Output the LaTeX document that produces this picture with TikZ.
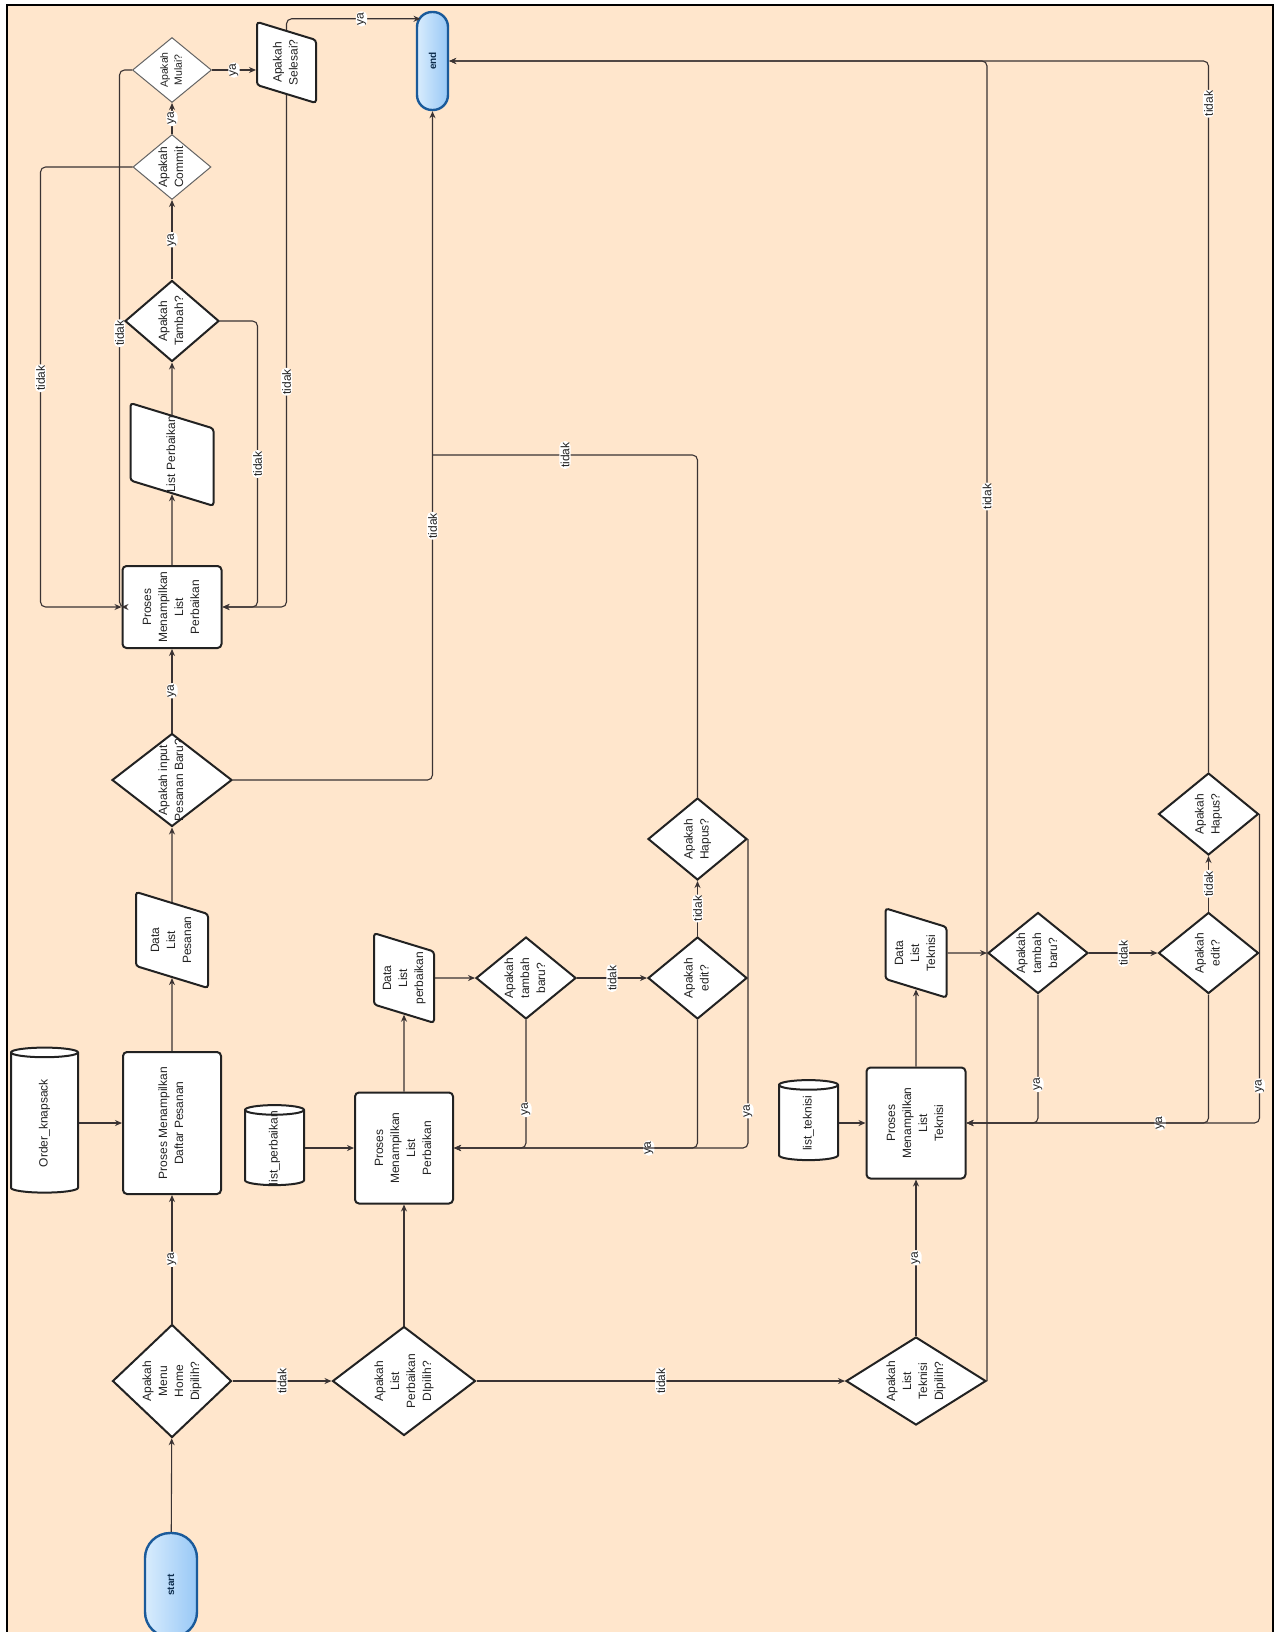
\documentclass[tikz,border=0pt]{standalone}
\usepackage{fontspec}
\setmainfont{Liberation Sans}
\usetikzlibrary{arrows.meta,shapes.geometric,calc}
\definecolor{peach}{HTML}{FFE6CC}
\definecolor{ink}{HTML}{222222}
\definecolor{wire}{HTML}{3A3333}
\definecolor{termln}{HTML}{1A5A9A}
\definecolor{termlo}{HTML}{D8ECFD}
\definecolor{termhi}{HTML}{98C8F6}
\newcommand{\ml}[1]{\makebox[0pt]{\begin{tabular}{@{}c@{}}#1\end{tabular}}}
\tikzset{
  every node/.append style={rotate=90, text=ink, font=\fontsize{12}{16}\selectfont},
  term/.style={rectangle, rounded corners=#1, draw=termln, line width=2.4pt, left color=termlo, right color=termhi, inner sep=0pt, text=termln!50!black, font=\fontsize{10}{12}\selectfont\bfseries},
  proc/.style={rectangle, rounded corners=4pt, draw=ink, line width=2pt, fill=white, inner sep=0pt},
  dec/.style={diamond, draw=ink, line width=2pt, fill=white, inner sep=0pt},
  decthin/.style={diamond, draw=ink!70, line width=1pt, fill=white, inner sep=0pt},
  % io: text width, text height, text depth (the slanted sides grow round that box)
  io/.style n args={3}{trapezium, trapezium left angle=73, trapezium right angle=107, rounded corners=3pt, draw=ink, line width=2pt, fill=white, inner sep=0pt, align=center, text width=#1, text height=#2, text depth=#3},
  store/.style={cylinder, aspect=0.6, draw=ink, line width=2pt, fill=white, inner sep=0pt},
  flow/.style={draw=wire, line width=1.1pt, rounded corners=5pt, -{Stealth[length=7pt,width=6pt]}},
  lbl/.style={fill=white, inner sep=1.2pt, font=\fontsize{12}{14}\selectfont},
}

\begin{document}
\begin{tikzpicture}[x=1pt, y=-1pt]
  \useasboundingbox (0,0) rectangle (1276,1632);
  \fill[white] (0,0) rectangle (1276,1632);
  \fill[peach] (7,5) rectangle (1273,1640);
  \draw[line width=2.5pt] (7,5) rectangle (1273,1640);

  % terminals
  \node[term=25pt, minimum width=104pt, minimum height=52pt] (st) at (171,1585) {start};
  \node[term=15pt, minimum width=98pt, minimum height=31pt] (en) at (432.5,61) {end};

  % menu home branch
  \node[dec, minimum width=113pt, minimum height=119pt] (dhome) at (172,1381) {\ml{Apakah\\Menu\\Home\\Dipilih?}};
  \node[proc, minimum width=142pt, minimum height=98pt] (pdaftar) at (172,1123) {\ml{Proses Menampilkan\\Daftar Pesanan}};
  \node[store, minimum width=67pt, minimum height=145pt] (dborder) at (44.5,1123) {\ml{Order\_knapsack}};
  \node[io={52pt}{39pt}{33pt}] (dpesan) at (172,940) {\ml{Data\\List\\Pesanan}};
  \node[dec, minimum width=93pt, minimum height=120pt] (dinput) at (172,780) {\ml{Apakah input\\Pesanan Baru?}};
  \node[proc, minimum width=82pt, minimum height=99pt] (plist) at (172,607) {\ml{Proses\\Menampilkan\\List\\Perbaikan}};
  \node[io={52pt}{44.5pt}{38.5pt}] (olist) at (172,454.5) {\ml{List Perbaikan}};
  \node[dec, minimum width=81pt, minimum height=94pt] (qtambah) at (172,321) {\ml{Apakah\\Tambah?}};
  \node[decthin, minimum width=65pt, minimum height=78pt] (qcommit) at (172,167) {\ml{Apakah\\Commit}};
  \node[decthin, minimum width=65pt, minimum height=79pt, font=\fontsize{10.5}{14}\selectfont] (qmulai) at (172,70) {\ml{Apakah\\Mulai?}};
  \node[io={45pt}{32.5pt}{26.5pt}] (qselesai) at (286.5,62.5) {\ml{Apakah\\Selesai?}};

  % list perbaikan branch
  \node[dec, minimum width=109pt, minimum height=143pt] (dperb) at (404,1381) {\ml{Apakah\\List\\Perbaikan\\DIpilih?}};
  \node[store, minimum width=59pt, minimum height=80pt] (dbperb) at (274.5,1148) {\ml{list\_perbaikan}};
  \node[proc, minimum width=111pt, minimum height=98pt] (pperb) at (404,1148) {\ml{Proses\\Menampilkan\\List\\Perbaikan}};
  \node[io={53pt}{33pt}{27pt}] (dataperb) at (404,978) {\ml{Data\\List\\perbaikan}};
  \node[dec, minimum width=82pt, minimum height=100pt] (qbaru) at (526,978) {\ml{Apakah\\tambah\\baru?}};
  \node[dec, minimum width=82pt, minimum height=99pt] (qedit) at (697.5,978) {\ml{Apakah\\edit?}};
  \node[dec, minimum width=82pt, minimum height=99pt] (qhapus) at (697.5,839) {\ml{Apakah\\Hapus?}};

  % list teknisi branch
  \node[dec, minimum width=88pt, minimum height=140pt] (dtek) at (916,1381) {\ml{Apakah\\List\\Teknisi\\Dipilih?}};
  \node[store, minimum width=59pt, minimum height=80pt] (dbtek) at (808.5,1123) {\ml{list\_teknisi}};
  \node[proc, minimum width=111pt, minimum height=99pt] (ptek) at (916,1123) {\ml{Proses\\Menampilkan\\List\\Teknisi}};
  \node[io={52pt}{33.5pt}{27.5pt}] (datatek) at (916,953) {\ml{Data\\List\\Teknisi}};
  \node[dec, minimum width=81pt, minimum height=100pt] (tbaru) at (1038,953) {\ml{Apakah\\tambah\\baru?}};
  \node[dec, minimum width=81pt, minimum height=100pt] (tedit) at (1208.5,953) {\ml{Apakah\\edit?}};
  \node[dec, minimum width=82pt, minimum height=100pt] (thapus) at (1208.5,814) {\ml{Apakah\\Hapus?}};

  \coordinate (jn) at (432.5,455);

  % main line
  \draw[flow] (st) -- (dhome);
  \draw[flow] (dhome) -- (pdaftar) node[lbl, midway] {ya};
  \draw[flow] (dhome) -- (dperb) node[lbl, midway] {tidak};
  \draw[flow] (dperb) -- (dtek) node[lbl, midway] {tidak};
  \draw[flow] (dborder) -- (pdaftar);
  \draw[flow] (pdaftar) -- (dpesan);
  \draw[flow] (dpesan) -- (dinput);
  \draw[flow] (dinput) -- (plist) node[lbl, midway] {ya};
  \draw[flow] (dinput.south) -| (en.west) node[lbl, pos=.69] {tidak};
  \draw[flow] (plist) -- (olist);
  \draw[flow] (olist) -- (qtambah);
  \draw[flow] (qtambah) -- (qcommit) node[lbl, midway] {ya};
  \draw[flow] (qcommit) -- (qmulai) node[lbl, midway] {ya};
  \draw[flow] (qmulai) -- (qmulai -| qselesai.north) node[lbl, midway] {ya};
  \draw[flow] (qselesai.east) |- ($(en.east)+(-12,8)$) node[lbl, pos=.78] {ya};
  \draw[flow] (qselesai.west) |- (plist.south) node[lbl, pos=.28] {tidak};
  \draw[flow] (qtambah.south) -| ($(plist.south)+(35,0)$) node[lbl, pos=.75] {tidak} -- (plist.south);
  \draw[flow] (qcommit.north) -| ($(plist.north)+(-81,0)$) node[lbl, pos=.74] {tidak} -- (plist.north);
  \draw[flow] (qmulai.north) -| ($(plist.north)+(-2,0)$) node[lbl, pos=.745] {tidak} -- (plist.north);

  % perbaikan loop
  \draw[flow] (dperb) -- (pperb);
  \draw[flow] (dbperb) -- (pperb);
  \draw[flow] (pperb) -- (dataperb);
  \draw[flow] (dataperb) -- (qbaru);
  \draw[flow] (qbaru) -- (qedit) node[lbl, midway] {tidak};
  \draw[flow] (qedit) -- (qhapus) node[lbl, midway] {tidak};
  \draw[flow] (qbaru.west) |- (pperb.south) node[lbl, pos=.35] {ya};
  \draw[flow] (qedit.west) |- (pperb.south) node[lbl, pos=.6] {ya};
  \draw[flow] (qhapus.south) |- (pperb.south) node[lbl, pos=.44] {ya};
  \draw[flow, -] (qhapus.east) |- (jn) node[lbl, pos=.75] {tidak};

  % teknisi loop
  \draw[flow] (dtek) -- (ptek) node[lbl, midway] {ya};
  \draw[flow] (dtek.south) |- (en.south) node[lbl, pos=.335] {tidak};
  \draw[flow] (dbtek) -- (ptek);
  \draw[flow] (ptek) -- (datatek);
  \draw[flow] (datatek) -- (tbaru);
  \draw[flow] (tbaru) -- (tedit) node[lbl, midway] {tidak};
  \draw[flow] (tedit) -- (thapus) node[lbl, midway] {tidak};
  \draw[flow] (tbaru.west) |- (ptek.south) node[lbl, pos=.35] {ya};
  \draw[flow] (tedit.west) |- (ptek.south) node[lbl, pos=.6] {ya};
  \draw[flow] (thapus.south) |- (ptek.south) node[lbl, pos=.44] {ya};
  \draw[flow] (thapus.east) |- (en.south) node[lbl, pos=.47] {tidak};
\end{tikzpicture}
\end{document}
